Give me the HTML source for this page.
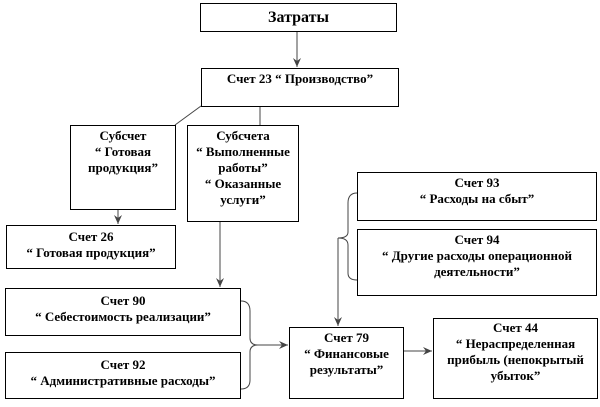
<!DOCTYPE html>
<html><head><meta charset="utf-8"><style>
body{margin:0;width:600px;height:407px;background:#fff;position:relative;overflow:hidden;font-family:"Liberation Serif","Times New Roman","DejaVu Serif",serif;font-weight:bold;font-size:13px;color:#000}
.b{position:absolute;border:1px solid #000;box-sizing:border-box;text-align:center;line-height:16px;background:#fff;font-family:"Liberation Serif","DejaVu Serif",serif}
svg{position:absolute;left:0;top:0}
</style></head><body>
<svg width="600" height="407">
<defs><marker id="a" markerWidth="10" markerHeight="8" refX="9" refY="4" orient="auto" markerUnits="userSpaceOnUse"><path d="M0,0 L9,4 L0,8 L3,4z" fill="#444"/></marker></defs>
<g stroke="#444" stroke-width="1" fill="none">
<line x1="297" y1="31" x2="297" y2="67" marker-end="url(#a)"/>
<line x1="201" y1="106" x2="175" y2="125"/>
<line x1="260" y1="106" x2="260" y2="125"/>
<line x1="118" y1="209" x2="118" y2="224" marker-end="url(#a)"/>
<line x1="220" y1="221" x2="220" y2="287" marker-end="url(#a)"/>
<path d="M241,301 Q250,301 250,311 L250,338 Q250,345 258,345 Q250,345 250,352 L250,380 Q250,389 241,389"/>
<line x1="258" y1="345" x2="288" y2="345" marker-end="url(#a)"/>
<path d="M357,193 Q348,193 348,203 L348,232 Q348,238 338,238 Q348,238 348,245 L348,273 Q348,280 357,280"/>
<line x1="338" y1="238" x2="338" y2="326" marker-end="url(#a)"/>
<line x1="403" y1="351" x2="432" y2="351" marker-end="url(#a)"/>
</g></svg>
<div class="b" style="left:200px;top:3px;width:197px;height:29px;font-size:16px;line-height:27px">Затраты</div>
<div class="b" style="left:201px;top:68px;width:198px;height:39px;line-height:20px">Счет 23 “ Производство”</div>
<div class="b" style="left:70px;top:125px;width:106px;height:85px;padding-top:2px">Субсчет<br>“ Готовая<br>продукция”</div>
<div class="b" style="left:187px;top:125px;width:112px;height:97px;padding-top:2px">Субсчета<br>“ Выполненные<br>работы”<br>“ Оказанные<br>услуги”</div>
<div class="b" style="left:6px;top:225px;width:170px;height:44px;padding-top:3px">Счет 26<br>“ Готовая продукция”</div>
<div class="b" style="left:5px;top:288px;width:236px;height:48px;padding-top:4px">Счет 90<br>“ Себестоимость реализации”</div>
<div class="b" style="left:5px;top:352px;width:236px;height:47px;padding-top:4px">Счет 92<br>“ Административные расходы”</div>
<div class="b" style="left:357px;top:172px;width:240px;height:49px;padding-top:2px">Счет 93<br>“ Расходы на сбыт”</div>
<div class="b" style="left:357px;top:229px;width:240px;height:67px;padding-top:2px">Счет 94<br>“ Другие расходы операционной<br>деятельности”</div>
<div class="b" style="left:289px;top:327px;width:115px;height:72px;padding-top:2px">Счет 79<br>“ Финансовые<br>результаты”</div>
<div class="b" style="left:433px;top:318px;width:165px;height:81px;padding-top:1px">Счет 44<br>“ Нераспределенная<br>прибыль (непокрытый<br>убыток”</div>
</body></html>
